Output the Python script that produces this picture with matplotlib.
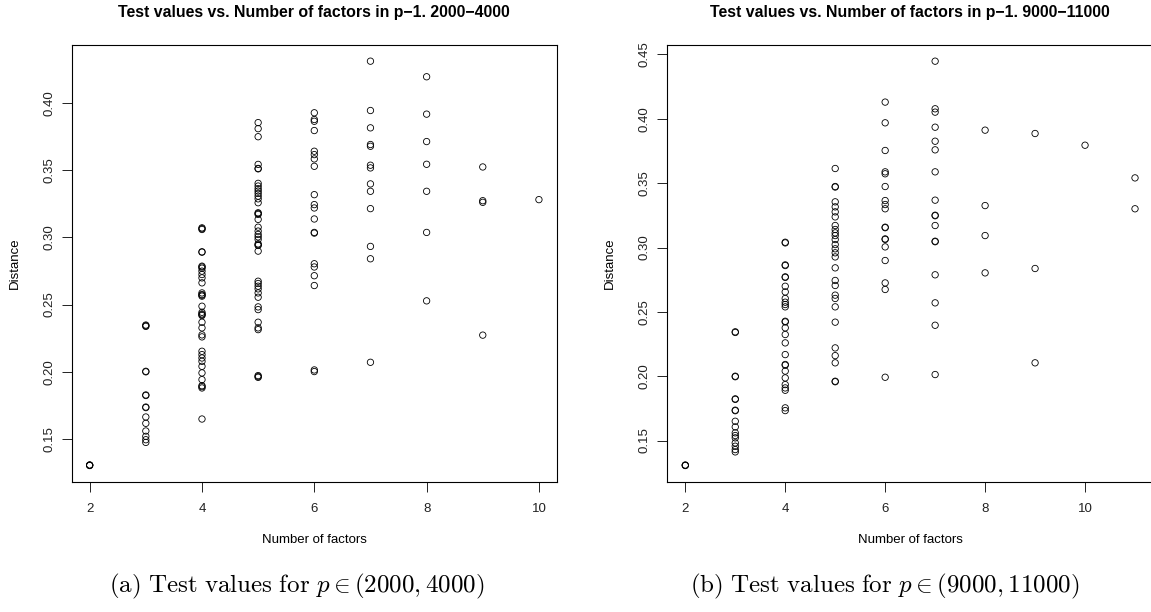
import numpy as np
import matplotlib
matplotlib.use('Agg')
import matplotlib.pyplot as plt

plt.rcParams['font.family'] = ['Liberation Sans', 'DejaVu Sans']
plt.rcParams['mathtext.fontset'] = 'cm'

# panel (a): p in (2000, 4000), distances grouped by number of factors
left_f2 = [0.1305, 0.1307, 0.1303, 0.1306]
left_f3 = [0.2343, 0.2348, 0.2338, 0.2000, 0.2004, 0.1828, 0.1824, 0.1734, 0.1738,
           0.1664, 0.1617, 0.1560, 0.1520, 0.1495, 0.1475]
left_f4 = [0.3071, 0.3065, 0.3059, 0.2893, 0.2890, 0.2786, 0.2780, 0.2771, 0.2749,
           0.2724, 0.2699, 0.2662, 0.2587, 0.2575, 0.2570, 0.2563, 0.2488, 0.2443,
           0.2431, 0.2425, 0.2419, 0.2369, 0.2327, 0.2275, 0.2260, 0.2153, 0.2128,
           0.2103, 0.2078, 0.2041, 0.1992, 0.1942, 0.1897, 0.1890, 0.1880, 0.1649]
left_f5 = [0.3854, 0.3809, 0.3749, 0.3543, 0.3513, 0.3510, 0.3402, 0.3382, 0.3362,
           0.3345, 0.3327, 0.3307, 0.3287, 0.3258, 0.3183, 0.3178, 0.3171, 0.3134,
           0.3076, 0.3047, 0.3022, 0.3004, 0.2985, 0.2952, 0.2945, 0.2940, 0.2898,
           0.2674, 0.2657, 0.2637, 0.2617, 0.2587, 0.2555, 0.2483, 0.2463, 0.2369,
           0.2327, 0.2314, 0.1972, 0.1965, 0.1959]
left_f6 = [0.3927, 0.3877, 0.3864, 0.3795, 0.3641, 0.3616, 0.3584, 0.3529, 0.3318,
           0.3244, 0.3219, 0.3137, 0.3037, 0.3032, 0.2804, 0.2780, 0.2715, 0.2642,
           0.2014, 0.2002]
left_f7 = [0.4311, 0.3944, 0.3815, 0.3691, 0.3678, 0.3537, 0.3517, 0.3398, 0.3343,
           0.3214, 0.2933, 0.2841, 0.2071]
left_f8 = [0.4195, 0.3917, 0.3713, 0.3544, 0.3343, 0.3037, 0.2528]
left_f9 = [0.3524, 0.3273, 0.3261, 0.2273]
left_f10 = [0.3281]

# panel (b): p in (9000, 11000)
right_f2 = [0.1308, 0.1306, 0.1310]
right_f3 = [0.2345, 0.2340, 0.2000, 0.1996, 0.1824, 0.1820, 0.1736, 0.1732, 0.1650,
            0.1606, 0.1560, 0.1539, 0.1521, 0.1482, 0.1456, 0.1430, 0.1412]
right_f4 = [0.3041, 0.3036, 0.2865, 0.2860, 0.2772, 0.2768, 0.2699, 0.2655, 0.2604,
            0.2575, 0.2557, 0.2539, 0.2427, 0.2422, 0.2376, 0.2324, 0.2259, 0.2168,
            0.2091, 0.2086, 0.2040, 0.1987, 0.1935, 0.1909, 0.1891, 0.1754, 0.1733]
right_f5 = [0.3614, 0.3474, 0.3470, 0.3355, 0.3316, 0.3277, 0.3238, 0.3171, 0.3140,
            0.3114, 0.3093, 0.3062, 0.3023, 0.2990, 0.2959, 0.2927, 0.2842, 0.2744,
            0.2705, 0.2630, 0.2604, 0.2539, 0.2420, 0.2220, 0.2160, 0.2104, 0.1961,
            0.1957]
right_f6 = [0.4130, 0.3969, 0.3754, 0.3588, 0.3573, 0.3474, 0.3365, 0.3334, 0.3301,
            0.3158, 0.3154, 0.3067, 0.3063, 0.3005, 0.2899, 0.2725, 0.2674, 0.1992]
right_f7 = [0.4448, 0.4078, 0.4052, 0.3935, 0.3826, 0.3759, 0.3588, 0.3368, 0.3251,
            0.3247, 0.3171, 0.3049, 0.3045, 0.2788, 0.2570, 0.2396, 0.2013]
right_f8 = [0.3912, 0.3326, 0.3093, 0.2803]
right_f9 = [0.3886, 0.2837, 0.2104]
right_f10 = [0.3795]
right_f11 = [0.3541, 0.3301]

left_groups = {2: left_f2, 3: left_f3, 4: left_f4, 5: left_f5, 6: left_f6,
               7: left_f7, 8: left_f8, 9: left_f9, 10: left_f10}
right_groups = {2: right_f2, 3: right_f3, 4: right_f4, 5: right_f5, 6: right_f6,
                7: right_f7, 8: right_f8, 9: right_f9, 10: right_f10, 11: right_f11}

titles = ['Test values vs. Number of factors in p\u22121. 2000\u22124000',
          'Test values vs. Number of factors in p\u22121. 9000\u221211000']
captions = [r'$\mathrm{(a)\ Test\ values\ for\ }p \in (2000, 4000)$',
            r'$\mathrm{(b)\ Test\ values\ for\ }p \in (9000, 11000)$']
y_ticks = [[0.15, 0.20, 0.25, 0.30, 0.35, 0.40],
           [0.15, 0.20, 0.25, 0.30, 0.35, 0.40, 0.45]]
x_ticks = [2, 4, 6, 8, 10]

W, H = 1151, 612
fig = plt.figure(figsize=(W / 100, H / 100), dpi=100)

ax_left_px = [71.7, 667.3]
ax_right_px = [556.9, 1153.0]
ax_top, ax_bot = 45.0, 481.7
caption_x = [297, 885]


def r_range(v):
    # R's default 4% padding
    lo, hi = min(v), max(v)
    d = (hi - lo) * 0.04
    return lo - d, hi + d


for i, groups in enumerate([left_groups, right_groups]):
    xs = np.concatenate([[k] * len(v) for k, v in groups.items()])
    ys = np.concatenate([v for v in groups.values()])
    l, r = ax_left_px[i], ax_right_px[i]
    ax = fig.add_axes([l / W, 1 - ax_bot / H, (r - l) / W, (ax_bot - ax_top) / H])
    ax.scatter(xs, ys, s=21, facecolors='none', edgecolors='black', linewidths=0.6)
    ax.set_xlim(*r_range(xs))
    ax.set_ylim(*r_range(ys))
    ax.set_xticks(x_ticks)
    ax.set_yticks(y_ticks[i])
    ax.set_yticklabels(['%.2f' % t for t in y_ticks[i]], rotation=90, va='center')
    ax.tick_params(direction='out', length=7, width=0.7, labelsize=9.5, colors='#222222')
    ax.tick_params(axis='x', pad=8)
    ax.tick_params(axis='y', pad=5)
    for sp in ax.spines.values():
        sp.set_linewidth(0.8)
    cx = (l + r) / 2
    fig.text(cx / W, 1 - 13 / H, titles[i], ha='center', va='center',
             fontsize=11.4, fontweight='bold')
    fig.text(cx / W, 1 - 540 / H, 'Number of factors', ha='center', va='center',
             fontsize=9.5)
    fig.text((l - 57) / W, 1 - (ax_top + ax_bot) / 2 / H, 'Distance', ha='center',
             va='center', rotation=90, fontsize=9.5)
    fig.text(caption_x[i] / W, 1 - 586 / H, captions[i], ha='center', va='center',
             fontsize=18)

fig.savefig('out.png', dpi=100)
